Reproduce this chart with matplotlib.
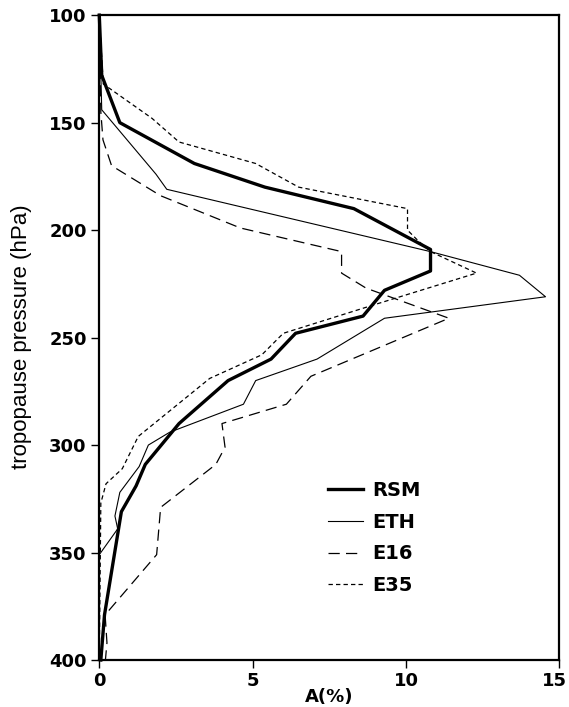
import matplotlib
matplotlib.use("Agg")
import matplotlib.pyplot as plt
from matplotlib.transforms import ScaledTranslation

# tropopause pressure (hPa) / frequency A(%)
rsm_p = [100, 128, 150, 169, 180, 190, 209, 219, 228, 240, 248, 260, 270, 290, 309, 319, 331, 379, 400]
rsm_a = [0, 0.08, 0.67, 3.1, 5.4, 8.3, 10.8, 10.8, 9.3, 8.6, 6.4, 5.6, 4.2, 2.6, 1.5, 1.2, 0.72, 0.17, 0.05]

eth_p = [100, 144, 174, 181, 210, 221, 231, 241, 260, 270, 281, 294, 300, 310, 322, 333, 339, 351, 400]
eth_a = [0, 0.08, 1.85, 2.2, 10.8, 13.7, 14.55, 9.3, 7.1, 5.1, 4.7, 2.3, 1.6, 1.3, 0.67, 0.51, 0.6, 0.0, 0.0]

e16_p = [100, 145, 158, 170, 184, 199, 210, 220, 227, 241, 268, 281, 290, 301, 309, 329, 351, 379, 392, 400]
e16_a = [0, 0.05, 0.12, 0.4, 2.0, 4.6, 7.9, 7.9, 8.7, 11.4, 6.9, 6.1, 4.0, 4.1, 3.8, 2.0, 1.87, 0.19, 0.25, 0.2]

e35_p = [100, 132, 148, 159, 169, 180, 190, 200, 205, 210, 220, 235, 248, 258, 269, 296, 311, 318, 327, 400]
e35_a = [0, 0.13, 1.72, 2.6, 5.1, 6.5, 10.05, 10.05, 10.4, 10.8, 12.3, 8.9, 6.0, 5.3, 3.6, 1.27, 0.75, 0.22, 0.05, 0.0]

x_ticks = [0, 5, 10, 15]
y_ticks = [100, 150, 200, 250, 300, 350, 400]

fig = plt.figure(figsize=(5.69, 7.07), dpi=100)
ax = fig.add_axes([0.1745, 0.0665, 0.8085, 0.912])

ax.plot(rsm_a, rsm_p, color="black", lw=2.4, label="RSM", clip_on=False)
ax.plot(eth_a, eth_p, color="black", lw=0.8, label="ETH", clip_on=False)
ax.plot(e16_a, e16_p, color="black", lw=0.9, ls=(0, (9, 5)), label="E16", clip_on=False)
ax.plot(e35_a, e35_p, color="black", lw=0.9, ls=(0, (3.5, 2.5)), label="E35", clip_on=False)

ax.set_xlim(0, 15)
ax.set_ylim(400, 100)
ax.set_xticks(x_ticks)
ax.set_yticks(y_ticks)
for s in ax.spines.values():
    s.set_linewidth(1.6)
ax.tick_params(direction="out", length=6, width=1, labelsize=13, pad=3)
for lab in ax.get_xticklabels() + ax.get_yticklabels():
    lab.set_fontweight("bold")

# last x label sits on the image edge, nudge it in a little
last = ax.get_xticklabels()[-1]
last.set_transform(last.get_transform() + ScaledTranslation(-0.05, 0, fig.dpi_scale_trans))

fig.text(22 / 569, 1 - 337 / 707, "tropopause pressure (hPa)", rotation=90,
         ha="center", va="center", fontsize=16, family="Liberation Sans")
fig.text(329 / 569, 1 - 697 / 707, "A(%)", ha="center", va="center",
         fontsize=13, fontweight="bold")

ax.legend(loc="upper left", bbox_to_anchor=(0.497, 0.278), frameon=False,
          borderaxespad=0, borderpad=0, handlelength=1.8, handletextpad=0.5,
          labelspacing=0.66, prop={"size": 14, "weight": "bold"})

fig.savefig("out.png", dpi=100)
